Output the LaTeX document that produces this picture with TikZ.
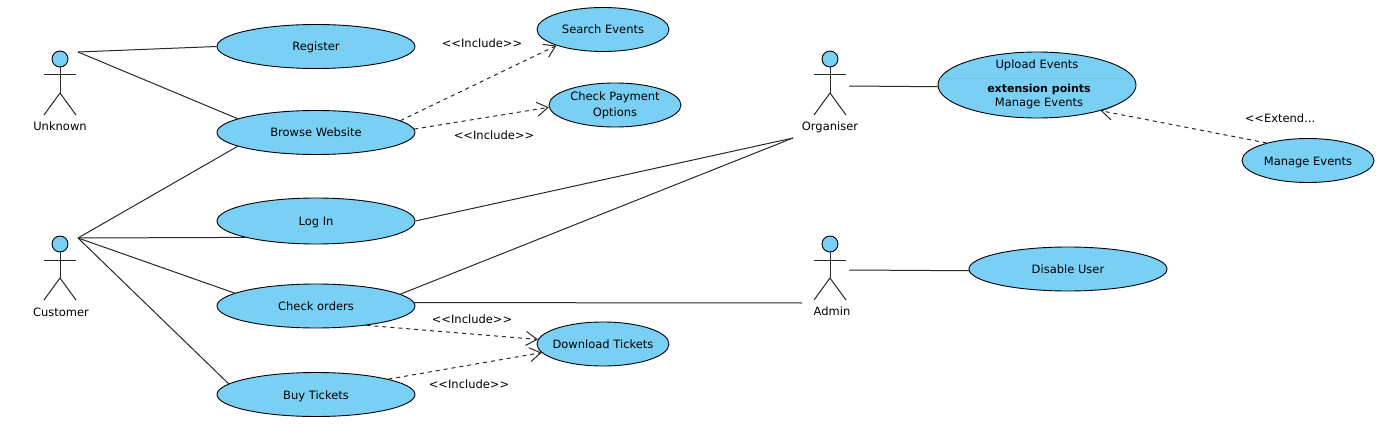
\documentclass[tikz,border=0pt]{standalone}
\usepackage{fontspec}
\setmainfont{DejaVu Sans}
\usetikzlibrary{shapes.geometric,arrows.meta}
\definecolor{casefill}{RGB}{122,207,245}
\definecolor{linegray}{RGB}{40,40,40}
\tikzset{use case/.style={ellipse,draw=black,fill=casefill,line width=0.9pt,inner xsep=-20pt,inner ysep=0pt,minimum width=198pt,minimum height=44pt,align=center,text height=9pt,text depth=0pt},
small case/.style={use case,minimum width=132pt},
assoc/.style={draw=linegray,line width=1pt},
dep/.style={draw=linegray,line width=1pt,dash pattern=on 4pt off 4pt,-{Straight Barb[length=11pt,width=14pt]}},
stereo/.style={inner sep=0pt},
actor head/.style={circle,draw=black,fill=casefill,line width=0.9pt,inner sep=0pt,minimum size=16pt},
actor limb/.style={draw=linegray,line width=1pt},
}
% stick figure: name, x of the body, half width
\newcommand{\stickman}[3]{
	\node[actor head] (#1 head) at (#2,59) {};
	\coordinate (#1 neck) at (#2,67);
	\coordinate (#1 hip) at (#2,93);
	\coordinate (#1 left arm) at (#2-#3,75);
	\coordinate (#1 right arm) at (#2+#3,75);
	\coordinate (#1 left foot) at (#2-#3,115);
	\coordinate (#1 right foot) at (#2+#3,115);
	\path[actor limb]
	(#1 neck) edge (#1 hip)
	(#1 left arm) edge (#1 right arm)
	(#1 hip) edge (#1 left foot)
	(#1 hip) edge (#1 right foot)
	;
}
\begin{document}
\begin{tikzpicture}[x=1pt,y=-1pt,font=\fontsize{11.5}{13.5}\selectfont]
	\useasboundingbox (0,0) rectangle (1382,433);
	
	%% actors
	\stickman{unknown}{60}{16}
	\begin{scope}[yshift=-185pt]
	\stickman{customer}{60}{16}
	\end{scope}
	\stickman{organiser}{830}{16}
	\begin{scope}[yshift=-185pt]
	\stickman{admin}{830}{16}
	\end{scope}
	\node (unknown label) at (60,126) {Unknown};
	\node (customer label) at (61,312) {Customer};
	\node (organiser label) at (830,127) {Organiser};
	\node (admin label) at (832,311) {Admin};
	
	%% free ends next to the actors
	\coordinate (unknown end) at (78,52);
	\coordinate (customer end) at (78,238);
	\coordinate (organiser end) at (849,86);
	\coordinate (organiser foot) at (793,138);
	\coordinate (admin end) at (849,270);
	\coordinate (admin foot) at (802,303);
	
	%% use cases
	\node[use case] (register) at (316,46.5) {Register};
	\node[use case] (browse) at (316,132.5) {Browse Website};
	\node[use case,minimum height=46pt] (login) at (316,221) {Log In};
	\node[use case] (orders) at (316,306) {Check orders};
	\node[use case] (buy) at (316,394.5) {Buy Tickets};
	\node[small case] (search) at (603,29.5) {Search Events};
	\node[small case,text height=,text depth=] (payment) at (615,105) {Check Payment\\[2.5pt]Options};
	\node[small case] (download) at (603,344) {Download Tickets};
	\node[use case,minimum height=66pt] (upload) at (1037,85) {};
	\node (upload title) at (1037,65) {Upload Events};
	\node[font=\fontsize{11}{13}\selectfont\bfseries] (upload points) at (1039,89.5) {extension points};
	\node (upload manage) at (1039,104) {Manage Events};
	\node[small case] (manage) at (1308,160.5) {Manage Events};
	\node[use case] (disable) at (1068,269) {Disable User};
	\draw[casefill!95!black,line width=0.7pt] (upload.176) -- (upload.4);
	
	%% associations
	\path[assoc]
	(unknown end) edge (register.west)
	(unknown end) edge (browse.170)
	(customer end) edge (browse.190)
	(customer end) edge (login.193)
	(customer end) edge (orders.171)
	(customer end) edge (buy.173)
	(login.east) edge (organiser foot)
	(orders.8) edge (organiser foot)
	(orders.2) edge (admin foot)
	(organiser end) edge (upload.181)
	(admin end) edge (disable.181)
	;
	
	%% include and extend
	\path[dep] (browse.8) -- (search.199);
	\path[dep] (browse.2) -- (payment.182);
	\path[dep] (orders.339) -- (download.176);
	\path[dep] (buy.12) -- (download.188);
	\path[dep] (manage.157) -- (upload.338);
	
	\node[stereo] (include search) at (482,43) {<{}<Include>{}>};
	\node[stereo] (include payment) at (494,135) {<{}<Include>{}>};
	\node[stereo] (include orders) at (472,319) {<{}<Include>{}>};
	\node[stereo] (include buy) at (469,384) {<{}<Include>{}>};
	\node[stereo] (extend manage) at (1280,118) {<{}<Extend...};
\end{tikzpicture}
\end{document}
